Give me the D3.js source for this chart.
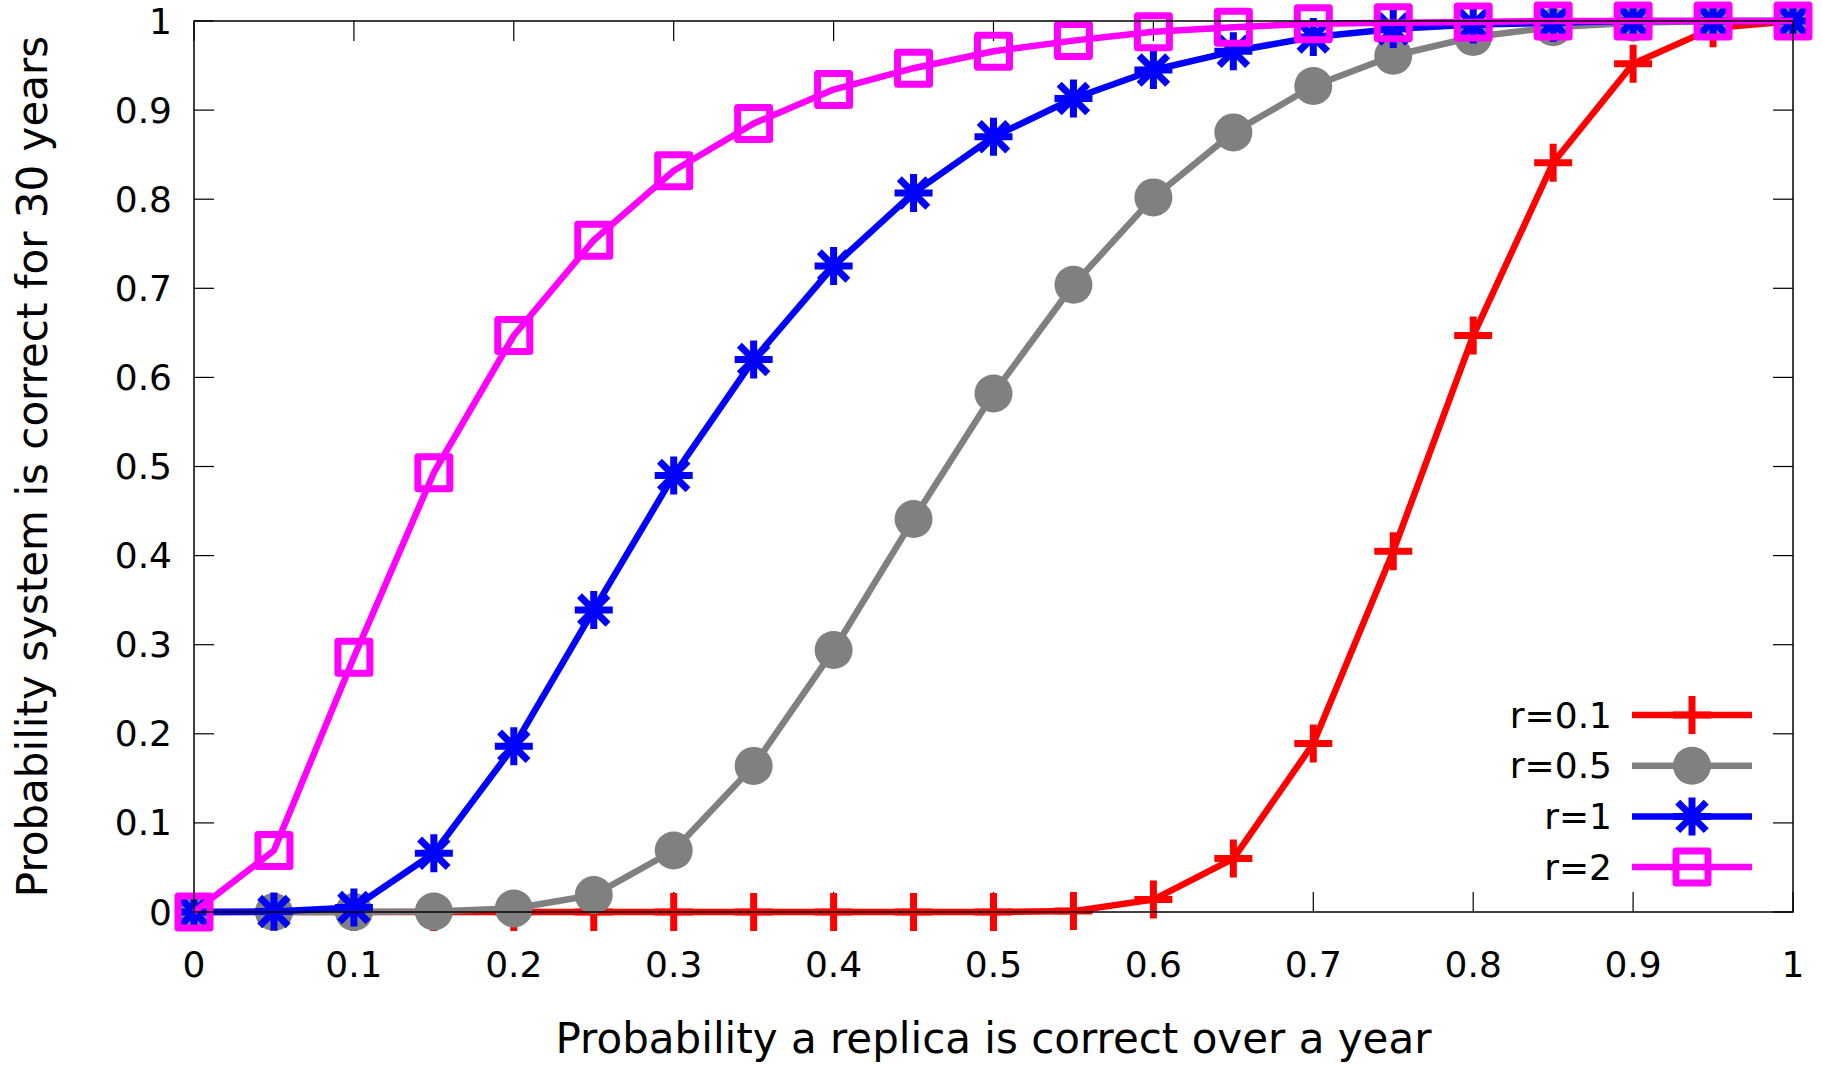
<!DOCTYPE html>
<html>
<head>
<meta charset="utf-8">
<script src="https://cdn.jsdelivr.net/npm/d3@7"></script>
<style>
  html, body { margin: 0; padding: 0; background: #fff; }
  svg { display: block; font-family: "DejaVu Sans", sans-serif; }
</style>
</head>
<body>
<div id="chart"></div>
<script>
// x values: probability a replica is correct over a year
const xValues = [0, 0.05, 0.1, 0.15, 0.2, 0.25, 0.3, 0.35, 0.4, 0.45, 0.5,
  0.55, 0.6, 0.65, 0.7, 0.75, 0.8, 0.85, 0.9, 0.95, 1];

const r01 = [0, 0, 0, 0, 0, 0, 0, 0, 0, 0, 0,
  0.001, 0.014, 0.060, 0.189, 0.405, 0.647, 0.841, 0.952, 0.992, 1];
const r05 = [0, 0, 0, 0.0005, 0.004, 0.019, 0.069, 0.164, 0.294, 0.441, 0.582,
  0.704, 0.802, 0.875, 0.927, 0.961, 0.982, 0.993, 0.998, 1, 1];
const r1 = [0, 0.0005, 0.005, 0.066, 0.186, 0.339, 0.490, 0.620, 0.725, 0.807, 0.870,
  0.913, 0.945, 0.966, 0.982, 0.991, 0.996, 0.998, 1, 1, 1];
const r2 = [0, 0.069, 0.286, 0.493, 0.647, 0.754, 0.832, 0.885, 0.923, 0.947, 0.966,
  0.978, 0.988, 0.993, 0.997, 0.998, 0.999, 1, 1, 1, 1];

const seriesNames = ['r=0.1', 'r=0.5', 'r=1', 'r=2'];
const seriesColors = ['#ff0000', '#808080', '#0000ff', '#ff00ff'];
const seriesMarkers = ['plus', 'circle', 'star', 'square'];
const seriesValues = [r01, r05, r1, r2];

const xTicks = [0, 0.1, 0.2, 0.3, 0.4, 0.5, 0.6, 0.7, 0.8, 0.9, 1];
const yTicks = [0, 0.1, 0.2, 0.3, 0.4, 0.5, 0.6, 0.7, 0.8, 0.9, 1];

const width = 1822, height = 1066;
const margin = { left: 194, right: 29, top: 21, bottom: 154 };
const fontSize = 36;
const titleSize = 42;

const svg = d3.select('#chart').append('svg')
  .attr('width', width)
  .attr('height', height);

const x = d3.scaleLinear().domain([0, 1]).range([margin.left, width - margin.right]);
const y = d3.scaleLinear().domain([0, 1]).range([height - margin.bottom, margin.top]);

// tics, inward on all four sides (gnuplot style)
const tickLen = 20;
const tics = svg.append('g').attr('stroke', '#000').attr('stroke-width', 1.2);
xTicks.forEach(t => {
  tics.append('line').attr('x1', x(t)).attr('x2', x(t))
    .attr('y1', y(0)).attr('y2', y(0) - tickLen);
  tics.append('line').attr('x1', x(t)).attr('x2', x(t))
    .attr('y1', y(1)).attr('y2', y(1) + tickLen);
});
yTicks.forEach(t => {
  tics.append('line').attr('x1', x(0)).attr('x2', x(0) + tickLen)
    .attr('y1', y(t)).attr('y2', y(t));
  tics.append('line').attr('x1', x(1)).attr('x2', x(1) - tickLen)
    .attr('y1', y(t)).attr('y2', y(t));
});

// tick labels
svg.append('g').selectAll('text')
  .data(xTicks)
  .join('text')
  .attr('x', d => x(d))
  .attr('y', y(0) + 52)
  .attr('text-anchor', 'middle')
  .attr('dominant-baseline', 'central')
  .attr('font-size', fontSize)
  .text(d => d3.format('~g')(d));

svg.append('g').selectAll('text')
  .data(yTicks)
  .join('text')
  .attr('x', x(0) - 22)
  .attr('y', d => y(d))
  .attr('text-anchor', 'end')
  .attr('dominant-baseline', 'central')
  .attr('font-size', fontSize)
  .text(d => d3.format('~g')(d));

// axis titles
svg.append('text')
  .attr('x', (x(0) + x(1)) / 2)
  .attr('y', 1038)
  .attr('text-anchor', 'middle')
  .attr('dominant-baseline', 'central')
  .attr('font-size', titleSize)
  .text('Probability a replica is correct over a year');

svg.append('text')
  .attr('transform', `translate(32, ${(y(0) + y(1)) / 2}) rotate(-90)`)
  .attr('text-anchor', 'middle')
  .attr('dominant-baseline', 'central')
  .attr('font-size', titleSize)
  .text('Probability system is correct for 30 years');

// point symbols
const ps = 19, lw = 6.5, mw = 7;
function drawMarker(g, type, cx, cy, color) {
  if (type === 'plus') {
    g.append('path')
      .attr('d', `M${cx - ps},${cy}H${cx + ps}M${cx},${cy - ps}V${cy + ps}`)
      .attr('stroke', color).attr('stroke-width', mw).attr('fill', 'none');
  } else if (type === 'circle') {
    g.append('circle').attr('cx', cx).attr('cy', cy).attr('r', ps)
      .attr('fill', color);
  } else if (type === 'star') {
    const d = ps * 0.75;
    g.append('path')
      .attr('d', `M${cx - ps},${cy}H${cx + ps}M${cx},${cy - ps}V${cy + ps}` +
        `M${cx - d},${cy - d}L${cx + d},${cy + d}M${cx - d},${cy + d}L${cx + d},${cy - d}`)
      .attr('stroke', color).attr('stroke-width', mw).attr('fill', 'none');
  } else if (type === 'square') {
    const s = ps - 3;
    g.append('rect').attr('x', cx - s).attr('y', cy - s)
      .attr('width', 2 * s).attr('height', 2 * s)
      .attr('fill', 'none').attr('stroke', color).attr('stroke-width', mw)
      .attr('stroke-linejoin', 'round');
  }
}

const line = d3.line()
  .x((d, i) => x(xValues[i]))
  .y(d => y(d));

seriesValues.forEach((vals, si) => {
  const g = svg.append('g');
  g.append('path')
    .datum(vals)
    .attr('d', line)
    .attr('fill', 'none')
    .attr('stroke', seriesColors[si])
    .attr('stroke-width', lw)
    .attr('stroke-linejoin', 'round');
  vals.forEach((v, i) => drawMarker(g, seriesMarkers[si], x(xValues[i]), y(v), seriesColors[si]));
});

// legend
const legendTextX = 1612, legendLineX1 = 1632, legendLineX2 = 1752;
const legendY0 = 715, legendStep = 50.7;
seriesNames.forEach((name, si) => {
  const ly = legendY0 + si * legendStep;
  const g = svg.append('g');
  g.append('text')
    .attr('x', legendTextX)
    .attr('y', ly)
    .attr('text-anchor', 'end')
    .attr('dominant-baseline', 'central')
    .attr('font-size', fontSize)
    .text(name);
  g.append('line')
    .attr('x1', legendLineX1).attr('x2', legendLineX2)
    .attr('y1', ly).attr('y2', ly)
    .attr('stroke', seriesColors[si]).attr('stroke-width', lw);
  drawMarker(g, seriesMarkers[si], (legendLineX1 + legendLineX2) / 2, ly, seriesColors[si]);
});

// border drawn in front
svg.append('rect')
  .attr('x', x(0)).attr('y', y(1))
  .attr('width', x(1) - x(0)).attr('height', y(0) - y(1))
  .attr('fill', 'none')
  .attr('stroke', '#000')
  .attr('stroke-width', 1.5);
</script>
</body>
</html>
